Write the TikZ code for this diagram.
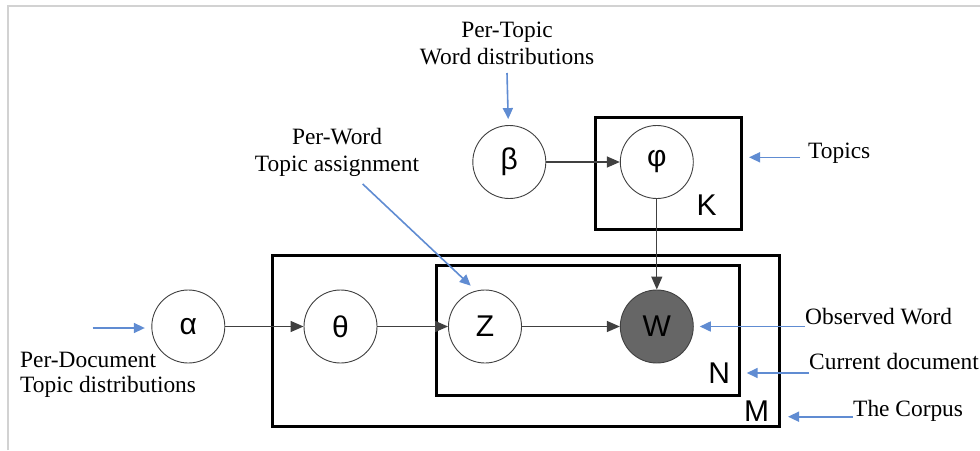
\documentclass[tikz,border=0pt]{standalone}
\usepackage{fontspec}
\setmainfont{Liberation Serif}
\newfontfamily\symfont{Liberation Sans}
\usetikzlibrary{arrows.meta}
\definecolor{notecol}{RGB}{96,140,210}
\definecolor{linkcol}{RGB}{64,64,64}
\definecolor{obscol}{RGB}{102,102,102}
\definecolor{framecol}{RGB}{210,210,210}
\begin{document}
\begin{tikzpicture}[x=1pt,y=-1pt,
	var/.style={circle, draw=black!75, line width=0.9pt, fill=white, minimum size=73pt, inner sep=0pt, font=\symfont\fontsize{30}{30}\selectfont},
	obs/.style={var, fill=obscol},
	plate/.style={rectangle, draw=black, line width=3pt, inner sep=0pt},
	idx/.style={inner sep=0pt, font=\symfont\fontsize{30}{30}\selectfont},
	note/.style={align=center, font=\fontsize{23.4}{27}\selectfont},
	link/.style={draw=linkcol, line width=1.3pt, -{Triangle[length=13pt,width=11pt]}},
	hint/.style={draw=notecol, line width=1.6pt, -{Triangle[length=11pt,width=10pt]}}]
	\useasboundingbox (0,0) rectangle (980,450);
	\draw[framecol, line width=1.5pt] (8,450) -- (8,6) -- (980,6);

	\node (plK) at (668,173.3)	[plate, minimum width=146pt, minimum height=112pt]	{};
	\node (plM) at (526,340.8)	[plate, minimum width=507pt, minimum height=171pt]	{};
	\node (plN) at (588,330.6)	[plate, minimum width=302.6pt, minimum height=130.7pt]	{};
	\node (K) at (706.7,205)	[idx]	{K};
	\node (N) at (719.3,373)	[idx]	{N};
	\node (M) at (756.7,410.7)	[idx]	{M};

	\node (alpha) at (188.3,326.5)	[var]	{α};
	\node (theta) at (340.5,326.5)	[var]	{θ};
	\node (z) at (485,326.5)	[var]	{Z};
	\node (w) at (656.8,326.5)	[obs]	{W};
	\node (beta) at (509.3,162)	[var]	{β};
	\node (phi) at (656.8,162)	[var]	{φ};

	\draw[link] (alpha) -- (theta);
	\draw[link] (theta) -- (z);
	\draw[link] (z) -- (w);
	\draw[link] (beta) -- (phi);
	\draw[link] (phi) -- (w);

	\node (pertopic) at (507,64)	[note, anchor=base, inner sep=0pt]	{Per-Topic\\Word distributions};
	\node (perword) at (337,171.7)	[note, anchor=base, inner sep=0pt]	{Per-Word\\Topic assignment};
	\node (perdoc) at (20,392.3)	[note, align=left, anchor=base west, inner sep=0pt, font=\fontsize{23.4}{25}\selectfont]	{Per-Document\\Topic distributions};
	\node (topics) at (800,158.4)	[note, anchor=base west, inner sep=0pt, inner xsep=8pt]	{Topics};
	\node (observed) at (805,324)	[note, anchor=base west, inner sep=0pt]	{Observed Word};
	\node (current) at (809,369.3)	[note, anchor=base west, inner sep=0pt]	{Current document};
	\node (corpus) at (853,416)	[note, anchor=base west, inner sep=0pt]	{The Corpus};

	\coordinate (sTopic) at (507,73);
	\coordinate (sWord) at (362.7,184);
	\coordinate (tWord) at (470.7,285.7);
	\coordinate (sDoc) at (92.7,328);
	\coordinate (tTopics) at (749,157.3);
	\coordinate (tCur) at (746.7,373);
	\coordinate (tCorpus) at (788,416.7);

	\draw[hint, shorten >=6pt] (sTopic) -- (beta);
	\draw[hint] (sWord) -- (tWord);
	\draw[hint, shorten >=6.5pt] (sDoc) -- (alpha.west |- sDoc);
	\draw[hint] (topics.west |- tTopics) -- (tTopics);
	\draw[hint, shorten >=6pt] (observed.west |- w) -- (w);
	\draw[hint] (current.west |- tCur) -- (tCur);
	\draw[hint] (corpus.west |- tCorpus) -- (tCorpus);
\end{tikzpicture}
\end{document}
